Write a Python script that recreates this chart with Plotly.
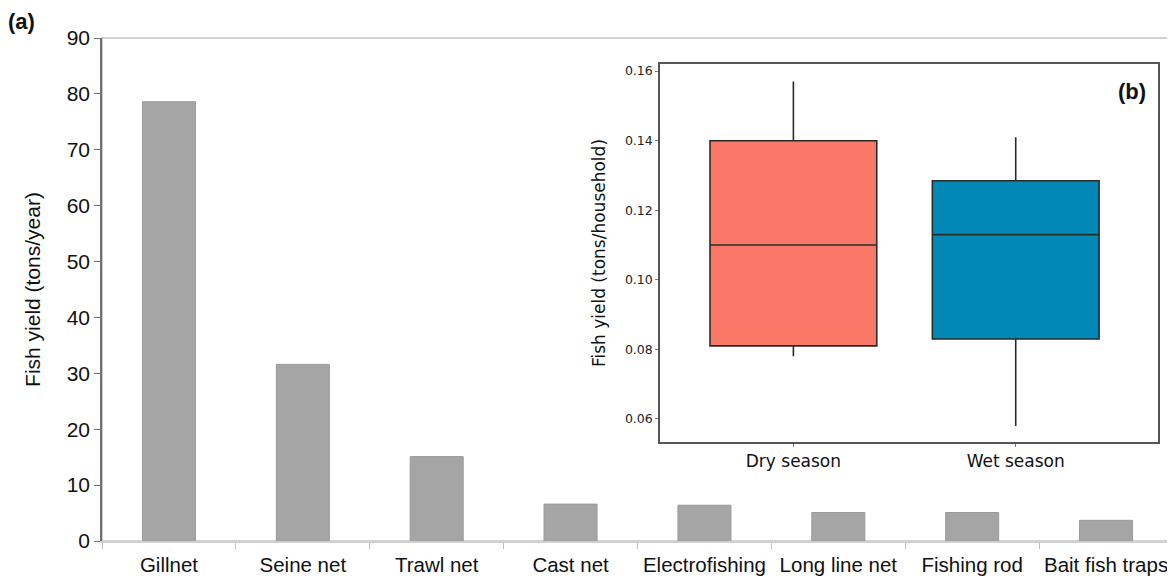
import plotly.graph_objects as go

# ---- Panel (a): annual fish yield by gear ----
gears = ["Gillnet", "Seine net", "Trawl net", "Cast net", "Electrofishing",
         "Long line net", "Fishing rod", "Bait fish traps"]
yield_tons_year = [78.6, 31.6, 15.1, 6.6, 6.4, 5.1, 5.1, 3.7]
y_ticks_a = [0, 10, 20, 30, 40, 50, 60, 70, 80, 90]

# ---- Panel (b): fish yield per household by season ----
seasons = ["Dry season", "Wet season"]
q1 = [0.081, 0.083]
median = [0.110, 0.113]
q3 = [0.140, 0.1285]
lower_whisker = [0.078, 0.058]
upper_whisker = [0.157, 0.141]
season_colors = ["#FA7868", "#0288B5"]
y_ticks_b = [0.06, 0.08, 0.10, 0.12, 0.14, 0.16]

main_font = "Liberation Sans, Arial, sans-serif"
inset_font = "DejaVu Sans, Verdana, sans-serif"

fig = go.Figure()

fig.add_trace(go.Bar(
    x=gears, y=yield_tons_year,
    marker=dict(color="#A5A5A5", line=dict(color="#9A9A9A", width=1)),
    xaxis="x", yaxis="y", showlegend=False,
))

for i, s in enumerate(seasons):
    fig.add_trace(go.Box(
        x=[s], q1=[q1[i]], median=[median[i]], q3=[q3[i]],
        lowerfence=[lower_whisker[i]], upperfence=[upper_whisker[i]],
        fillcolor=season_colors[i],
        line=dict(color="#2A2A2A", width=1.6),
        whiskerwidth=0, width=0.75,
        boxpoints=False,
        xaxis="x2", yaxis="y2", showlegend=False,
    ))

fig.update_layout(
    width=1175, height=577,
    margin=dict(l=94, r=10, t=30, b=44),
    paper_bgcolor="white", plot_bgcolor="white",
    bargap=0.604,
    font=dict(family=main_font, color="#222222"),
    xaxis=dict(
        domain=[0, 1], type="category", automargin=False,
        showline=True, linecolor="#D0D0D0", linewidth=2,
        ticks="outside", tickson="boundaries", ticklen=6, tickcolor="#BFBFBF",
        ticklabelstandoff=4, tickangle=0,
        tickfont=dict(size=20.5, family=main_font, color="#111111"),
        showgrid=False, zeroline=False,
    ),
    yaxis=dict(
        domain=[0, 1], range=[0, 90], tickvals=y_ticks_a, automargin=False,
        showline=True, linecolor="#707070", linewidth=1.5,
        ticks="outside", ticklen=6, tickcolor="#707070",
        tickfont=dict(size=21, family=main_font, color="#111111"),
        title=dict(text="Fish yield (tons/year)", standoff=20,
                   font=dict(size=21, family=main_font, color="#111111")),
        showgrid=False, zeroline=False,
    ),
    xaxis2=dict(
        domain=[0.521, 0.986], anchor="y2", type="category", automargin=False,
        range=[-0.6, 1.64],
        showline=True, mirror=True, linecolor="#555555", linewidth=1.5,
        ticks="outside", ticklen=3, tickcolor="#777777",
        tickfont=dict(size=17, family=inset_font, color="#111111"),
        showgrid=False, zeroline=False,
    ),
    yaxis2=dict(
        domain=[0.197, 0.948], anchor="x2", automargin=False,
        range=[0.0534, 0.162], tickvals=y_ticks_b, tickformat=".2f",
        showline=True, mirror=True, linecolor="#555555", linewidth=1.5,
        ticks="outside", ticklen=3, tickcolor="#777777",
        tickfont=dict(size=12.5, family=inset_font, color="#222222"),
        title=dict(text="Fish yield (tons/household)", standoff=15,
                   font=dict(size=17, family=inset_font, color="#111111")),
        showgrid=False, zeroline=False,
    ),
    shapes=[
        dict(type="rect", xref="paper", yref="paper", x0=0, x1=1, y0=0, y1=1,
             line=dict(color="#A8A8A8", width=1.2), layer="below"),
    ],
    annotations=[
        dict(text="<b>(a)</b>", xref="paper", yref="paper", x=-0.075, y=1.033,
             xanchor="center", yanchor="middle", showarrow=False,
             font=dict(size=22, family=main_font, color="#111111")),
        dict(text="<b>(b)</b>", xref="paper", yref="paper", x=0.962, y=0.893,
             xanchor="center", yanchor="middle", showarrow=False,
             font=dict(size=22, family=main_font, color="#111111")),
    ],
)

fig.write_html("out.html")
